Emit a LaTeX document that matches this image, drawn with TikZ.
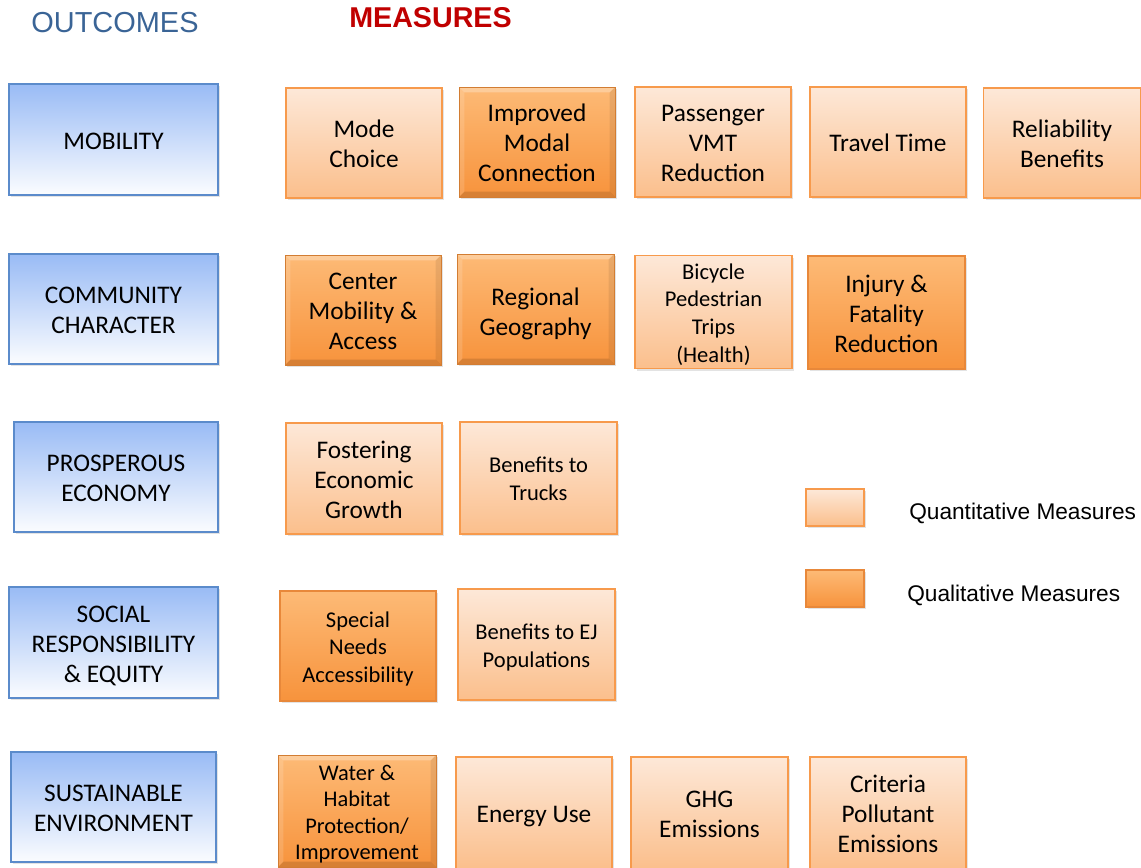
\documentclass[tikz,border=0pt]{standalone}
\usepackage{fontspec}
\setmainfont{Carlito}
\newfontfamily\arialfont{Liberation Sans}
\usetikzlibrary{shadows}

\definecolor{blueTop}{HTML}{99BBF5}
\definecolor{blueMid}{HTML}{B4C8EC}
\definecolor{blueLine}{HTML}{5B8BCB}
\definecolor{quantTop}{HTML}{FDE8D8}
\definecolor{quantBot}{HTML}{FBBF8C}
\definecolor{quantLine}{HTML}{F79A4C}
\definecolor{qualTop}{HTML}{FDBA76}
\definecolor{qualBot}{HTML}{F7933C}
\definecolor{qualLine}{HTML}{E8883A}
\definecolor{outcomeTitle}{HTML}{3A6496}
\definecolor{measureTitle}{HTML}{C00000}

\newcommand{\bigtxt}{\fontsize{19}{22.5}\selectfont}
\newcommand{\smalltxt}{\fontsize{16.9}{20.8}\selectfont}
% box texts with a fixed first-line height and last-line depth,
% so every box centres its lines the same way
\newcommand{\mtxt}[1]{\rule{0pt}{19.8pt}#1\rule[-5pt]{0pt}{5pt}}
\newcommand{\stxt}[1]{\rule{0pt}{17.7pt}#1\rule[-4.5pt]{0pt}{4.5pt}}

\begin{document}
\begin{tikzpicture}[x=0.75pt,y=-0.75pt,
  sz/.style 2 args={minimum width=#1*0.75pt, minimum height=#2*0.75pt},
  box/.style={draw, line width=0.9pt, align=center, inner sep=0pt, text=black,
    font=\bigtxt,
    drop shadow={shadow xshift=1.6pt, shadow yshift=-1.6pt, opacity=0.22}},
  small/.style={font=\smalltxt},
  outcome/.style={box, draw=blueLine, top color=blueTop, middle color=blueMid,
    bottom color=white!96!blueTop},
  quant/.style={box, draw=quantLine, top color=quantTop, bottom color=quantBot},
  qual/.style={box, draw=qualLine, top color=qualTop, bottom color=qualBot},
  bevel/.style={qual, draw=qualBot!85!black, line width=0.6pt,
    path picture={
      \coordinate (nw) at (path picture bounding box.north west);
      \coordinate (se) at (path picture bounding box.south east);
      \coordinate (ne) at (path picture bounding box.north east);
      \coordinate (sw) at (path picture bounding box.south west);
      \fill[white, opacity=0.28] (nw) -- (ne) -- ([xshift=-4pt,yshift=-4pt]ne) -- ([xshift=4pt,yshift=-4pt]nw) -- cycle;
      \fill[white, opacity=0.14] (nw) -- ([xshift=4pt,yshift=-4pt]nw) -- ([xshift=4pt,yshift=4pt]sw) -- (sw) -- cycle;
      \fill[black, opacity=0.08] (ne) -- ([xshift=-4pt,yshift=-4pt]ne) -- ([xshift=-4pt,yshift=4pt]se) -- (se) -- cycle;
      \fill[black, opacity=0.13] (sw) -- ([xshift=4pt,yshift=4pt]sw) -- ([xshift=-4pt,yshift=4pt]se) -- (se) -- cycle;
    }},
  title/.style={font=\arialfont\fontsize{21.7}{24}\selectfont, inner sep=0pt},
  legendtxt/.style={font=\arialfont\fontsize{17}{20}\selectfont, anchor=west, inner sep=0pt}
]
\useasboundingbox (0,0) rectangle (1141,867);

% headings
\node[title, text=outcomeTitle] (hOut) at (115,22.5) {OUTCOMES};
\node[title, text=measureTitle, font=\arialfont\bfseries\fontsize{21.5}{24}\selectfont] (hMeas) at (430.5,18) {MEASURES};

% outcomes column
\node[outcome, sz={209}{111}] (oMob) at (113.5,139.5) {\mtxt{MOBILITY}};
\node[outcome, sz={209}{110}] (oCom) at (113.5,309) {\mtxt{COMMUNITY\\CHARACTER}};
\node[outcome, sz={204}{110}] (oPro) at (116,477) {\mtxt{PROSPEROUS\\ECONOMY}};
\node[outcome, sz={209}{111}] (oSoc) at (113.5,642.5) {\mtxt{SOCIAL\\RESPONSIBILITY\\\& EQUITY}};
\node[outcome, sz={205}{110}] (oSus) at (113.5,807) {\mtxt{SUSTAINABLE\\ENVIRONMENT}};

% mobility measures
\node[quant, sz={156}{110}] (mMode) at (364,143) {\mtxt{Mode\\Choice}};
\node[bevel, sz={156}{110}] (mModal) at (537,142) {\mtxt{Improved\\Modal\\Connection}};
\node[quant, sz={156}{110}] (mVmt) at (713,142) {\mtxt{Passenger\\VMT\\Reduction}};
\node[quant, sz={156}{110}] (mTime) at (888,142) {\mtxt{Travel Time}};
\node[quant, sz={157}{110}] (mRel) at (1062,143) {\mtxt{Reliability\\Benefits}};

% community character measures
\node[bevel, sz={156}{110}] (cCenter) at (363,310) {\mtxt{Center\\Mobility \&\\Access}};
\node[bevel, sz={157}{110}] (cGeo) at (535.5,309) {\rule{0pt}{22pt}Regional\\Geography\rule[-5pt]{0pt}{5pt}};
\node[quant, small, sz={157}{112}] (cBike) at (713.5,312) {\stxt{Bicycle\\Pedestrian\\Trips\\(Health)}};
\node[qual, sz={157}{113}] (cInjury) at (886.5,312.5) {\mtxt{Injury \&\\Fatality\\Reduction}};

% prosperous economy measures
\node[quant, sz={156}{111}] (pGrowth) at (364,478.5) {\mtxt{Fostering\\Economic\\Growth}};
\node[quant, small, sz={157}{112}] (pTrucks) at (538.5,478) {\stxt{Benefits to\\Trucks}};

% social responsibility measures
\node[qual, small, sz={156}{110}] (sNeeds) at (358,646) {\stxt{Special\\Needs\\Accessibility}};
\node[quant, small, sz={157}{111}] (sEJ) at (536.5,644.5) {\stxt{Benefits to EJ\\Populations}};

% sustainable environment measures
\node[bevel, sz={158}{112}, font=\fontsize{16.8}{19.9}\selectfont] (eWater) at (357,811) {\stxt{Water \&\\Habitat\\Protection/\\Improvement}};
\node[quant, sz={156}{112}] (eEnergy) at (534,813) {\mtxt{Energy Use}};
\node[quant, sz={157}{112}] (eGhg) at (709.5,813) {\mtxt{GHG\\Emissions}};
\node[quant, sz={156}{112}] (eCrit) at (888,813) {\mtxt{Criteria\\Pollutant\\Emissions}};

% legend
\node[quant, sz={58}{37}, line width=0.8pt] (lgQuant) at (835,507.5) {};
\node[legendtxt] (lgQuantTxt) at (909,513.5) {Quantitative Measures};
\node[qual, sz={58}{37}, line width=0.8pt] (lgQual) at (835,588.5) {};
\node[legendtxt] (lgQualTxt) at (907,595.5) {Qualitative Measures};
\end{tikzpicture}
\end{document}
